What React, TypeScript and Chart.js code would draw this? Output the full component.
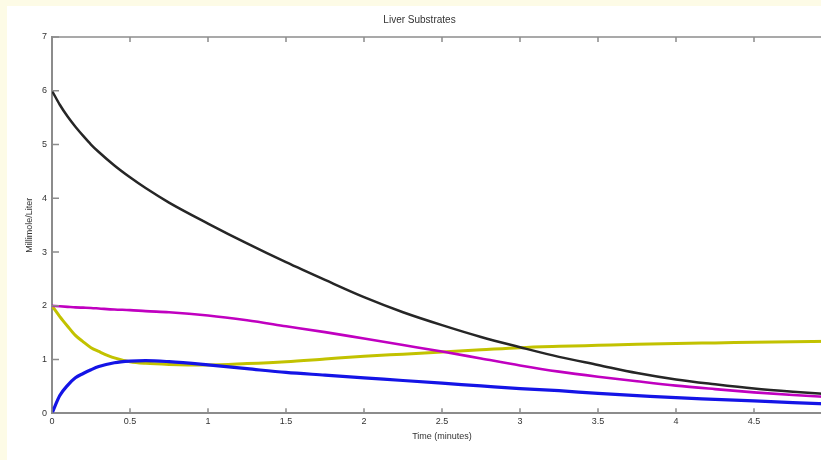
import React, { useEffect, useRef } from "react";
import { Chart, registerables } from "chart.js";

Chart.register(...registerables);

const TITLE = "Liver Substrates";
const X_LABEL = "Time (minutes)";
const Y_LABEL = "Millimole/Liter";

const times = [0, 0.05, 0.1, 0.15, 0.2, 0.25, 0.3, 0.4, 0.5, 0.6, 0.75, 1, 1.25, 1.5, 1.75, 2, 2.25, 2.5, 2.75, 3, 3.25, 3.5, 3.75, 4, 4.25, 4.5, 4.75, 5];
const blackSeries = [6.0, 5.74, 5.52, 5.33, 5.16, 5.0, 4.86, 4.61, 4.39, 4.19, 3.92, 3.53, 3.16, 2.81, 2.48, 2.16, 1.88, 1.64, 1.42, 1.23, 1.05, 0.9, 0.75, 0.63, 0.54, 0.46, 0.4, 0.35];
const magentaSeries = [2.0, 1.99, 1.98, 1.97, 1.965, 1.96, 1.95, 1.93, 1.92, 1.9, 1.88, 1.82, 1.73, 1.62, 1.51, 1.39, 1.27, 1.15, 1.02, 0.89, 0.775, 0.68, 0.595, 0.515, 0.45, 0.39, 0.34, 0.3];
const yellowSeries = [2.0, 1.8, 1.62, 1.45, 1.33, 1.22, 1.15, 1.03, 0.96, 0.93, 0.91, 0.9, 0.925, 0.96, 1.01, 1.06, 1.1, 1.14, 1.18, 1.22, 1.245, 1.265, 1.285, 1.3, 1.31, 1.32, 1.33, 1.34];
const blueSeries = [0, 0.33, 0.52, 0.66, 0.74, 0.81, 0.87, 0.94, 0.97, 0.98, 0.96, 0.9, 0.83, 0.76, 0.71, 0.66, 0.61, 0.56, 0.51, 0.46, 0.42, 0.37, 0.33, 0.29, 0.26, 0.23, 0.2, 0.17];

const X_MIN = 0;
const X_MAX = 5;
const X_STEP = 0.5;
const Y_MIN = 0;
const Y_MAX = 7;
const Y_STEP = 1;

const AXIS_COLOR = "#8c8c8c";
const TEXT_COLOR = "#333333";
const FONT = "'Liberation Sans', Arial, sans-serif";

const toPoints = (ys: number[]) => ys.map((y, i) => ({ x: times[i], y }));
const fmt = (v: any) => `${Number(v)}`;

const matlabBox = {
  id: "matlabBox",
  afterDraw(chart: any) {
    const { ctx, chartArea, scales } = chart;
    const { left, right, top, bottom } = chartArea;
    ctx.save();
    ctx.strokeStyle = AXIS_COLOR;
    ctx.lineWidth = 1.5;
    ctx.beginPath();
    ctx.moveTo(left, top);
    ctx.lineTo(right, top);
    ctx.stroke();
    ctx.beginPath();
    for (const t of scales.x.ticks) {
      const px = scales.x.getPixelForValue(t.value);
      ctx.moveTo(px, bottom);
      ctx.lineTo(px, bottom - 5);
      ctx.moveTo(px, top);
      ctx.lineTo(px, top + 5);
    }
    for (const t of scales.y.ticks) {
      const py = scales.y.getPixelForValue(t.value);
      ctx.moveTo(left, py);
      ctx.lineTo(left + 7, py);
    }
    ctx.stroke();
    ctx.restore();
  },
};

export default function App() {
  const ref = useRef<HTMLCanvasElement | null>(null);

  useEffect(() => {
    if (!ref.current) return;
    const chart = new Chart(ref.current, {
      type: "line",
      data: {
        datasets: [
          { label: "black", data: toPoints(blackSeries), borderColor: "#262626", borderWidth: 2.5 },
          { label: "blue", data: toPoints(blueSeries), borderColor: "#1414e6", borderWidth: 3.2 },
          { label: "magenta", data: toPoints(magentaSeries), borderColor: "#c000c0", borderWidth: 2.6 },
          { label: "yellow", data: toPoints(yellowSeries), borderColor: "#c2c200", borderWidth: 3 },
        ].map((d) => ({
          ...d,
          pointRadius: 0,
          fill: false,
          cubicInterpolationMode: "monotone" as const,
        })),
      },
      plugins: [matlabBox],
      options: {
        responsive: false,
        animation: false,
        layout: { padding: { left: 0, right: 57, top: 0, bottom: 0 } },
        plugins: {
          legend: { display: false },
          tooltip: { enabled: false },
          title: {
            display: true,
            text: TITLE,
            color: TEXT_COLOR,
            font: { family: FONT, size: 10, weight: "normal" },
            padding: { top: 8, bottom: 11 },
          },
        },
        scales: {
          x: {
            type: "linear",
            min: X_MIN,
            max: X_MAX,
            grid: { display: false, drawTicks: false },
            border: { display: true, color: AXIS_COLOR, width: 2 },
            ticks: {
              stepSize: X_STEP,
              autoSkip: false,
              maxRotation: 0,
              padding: 3,
              color: TEXT_COLOR,
              font: { family: FONT, size: 9 },
              callback: fmt,
            },
            title: {
              display: true,
              text: X_LABEL,
              color: TEXT_COLOR,
              font: { family: FONT, size: 9 },
              padding: { top: 0, bottom: 18.5 },
            },
            afterFit: (s: any) => {
              s.height = 46.7;
            },
          },
          y: {
            type: "linear",
            min: Y_MIN,
            max: Y_MAX,
            grid: { display: false, drawTicks: false },
            border: { display: true, color: AXIS_COLOR, width: 2 },
            ticks: {
              stepSize: Y_STEP,
              padding: 5,
              color: TEXT_COLOR,
              font: { family: FONT, size: 9 },
              callback: fmt,
            },
            title: {
              display: true,
              text: Y_LABEL,
              color: TEXT_COLOR,
              font: { family: FONT, size: 9 },
              padding: { top: 17.5, bottom: 0 },
            },
            afterFit: (s: any) => {
              s.width = 45;
            },
          },
        },
      },
    });
    return () => chart.destroy();
  }, []);

  return (
    <div
      style={{
        position: "fixed",
        left: 0,
        top: 0,
        width: 821,
        height: 460,
        overflow: "hidden",
        background: "#fdfbe6",
      }}
    >
      <div
        style={{
          position: "absolute",
          left: 7,
          top: 6,
          width: 882,
          height: 454,
          background: "#ffffff",
        }}
      >
        <canvas ref={ref} width={882} height={454} style={{ display: "block" }} />
      </div>
    </div>
  );
}
